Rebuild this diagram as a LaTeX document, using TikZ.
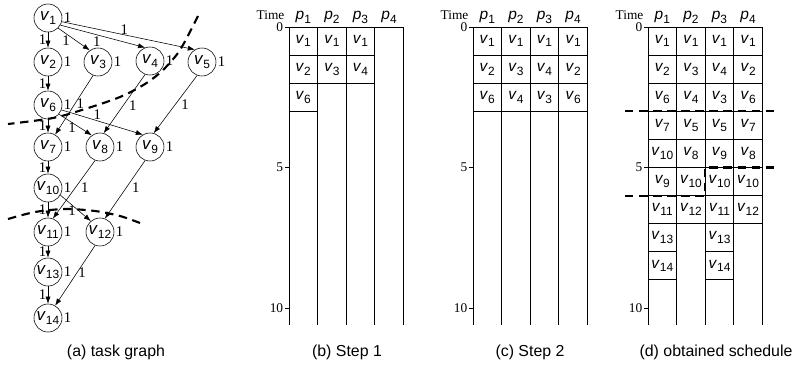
\documentclass[tikz,border=0pt]{standalone}
\usepackage{fontspec}
\setmainfont{Liberation Sans}
\newfontfamily\tfont{Liberation Serif}
\usetikzlibrary{arrows.meta}
\tikzset{>={Latex[length=5pt,width=3.6pt]}}
\newcommand\tk[1]{\textit{v}\raisebox{-2.6pt}{\fontsize{8.5}{8.5}\selectfont #1}}
\newcommand\pk[1]{\textit{p}\raisebox{-2.6pt}{\fontsize{8.5}{8.5}\selectfont #1}}
\tikzset{
  elbl/.style={font=\tfont\fontsize{10.5}{10.5}\selectfont,inner sep=1pt},
  task/.style={draw,circle,minimum size=0.7cm,inner sep=0pt,
    font=\fontsize{12}{12}\selectfont,label={[elbl]right:1}},
  chart/.style={line width=0.6pt},
  cell/.style={draw,line width=0.6pt,minimum width=0.715cm,minimum height=0.7025cm,
    inner sep=0pt,font=\fontsize{11}{11}\selectfont},
  plbl/.style={font=\fontsize{11}{11}\selectfont,inner sep=0pt,anchor=base},
  tlbl/.style={font=\tfont\fontsize{9.5}{9.5}\selectfont,inner sep=1pt},
  captext/.style={font=\fontsize{11.3}{11.3}\selectfont},
  cutline/.style={line width=1.5pt,dash pattern=on 6pt off 4pt}
}
\begin{document}
\begin{tikzpicture}[x=0.025cm,y=-0.025cm]
\useasboundingbox (0,0) rectangle (793,369);
% task graph
\node[task] (v1) at (48,18) {\tk{1}};
\node[task] (v2) at (48,62) {\tk{2}};
\node[task] (v3) at (98,62) {\tk{3}};
\node[task] (v4) at (150,61) {\tk{4}};
\node[task] (v5) at (202,62) {\tk{5}};
\node[task] (v6) at (48,105) {\tk{6}};
\node[task] (v7) at (48,147) {\tk{7}};
\node[task] (v8) at (100,147) {\tk{8}};
\node[task] (v9) at (150,147) {\tk{9}};
\node[task] (v10) at (48,188) {\tk{10}};
\node[task] (v11) at (48,232) {\tk{11}};
\node[task] (v12) at (100,232) {\tk{12}};
\node[task] (v13) at (48,272) {\tk{13}};
\node[task] (v14) at (48,318) {\tk{14}};
\draw[->] (v1) -- node[elbl,left] {1} (v2);
\draw[->] (v1.-45) -- node[elbl,pos=.25,below] {1} (v3.125);
\draw[->] (v1.-30) -- node[elbl,pos=.43,below] {1} (v4.110);
\draw[->] (v1.-15) -- node[elbl,pos=.47,above,inner sep=0pt] {1} (v5.120);
\draw[->] (v2) -- node[elbl,left] {1} (v6);
\draw[->] (v3.-110) -- node[elbl,pos=.48,right] {1} (v7.60);
\draw[->] (v4.-110) -- node[elbl,pos=.53,right=3pt] {1} (v8.75);
\draw[->] (v5.-110) -- node[elbl,pos=.5,right=3pt] {1} (v9.75);
\draw[->] (v6) -- node[elbl,left] {1} (v7);
\draw[->] (v6.-40) -- node[elbl,pos=.4,below,inner sep=0pt] {1} (v8.125);
\draw[->] (v6.-20) -- node[elbl,pos=.44,above] {1} (v9.120);
\draw[->] (v7) -- node[elbl,left] {1} (v10);
\draw[->] (v8.-110) -- node[elbl,pos=.47,right=3pt] {1} (v11.70);
\draw[->] (v9.-110) -- node[elbl,pos=.47,right=3pt] {1} (v12.70);
\draw[->] (v10) -- node[elbl,left] {1} (v11);
\draw[->] (v10.-30) -- node[elbl,pos=.38,below,inner sep=0pt] {1} (v12.130);
\draw[->] (v11) -- node[elbl,left] {1} (v13);
\draw[->] (v12.-110) -- node[elbl,pos=.46,right] {1} (v14.60);
\draw[->] (v13) -- node[elbl,left] {1} (v14);
\draw[cutline] plot[smooth] coordinates {(198,16) (180,50) (163,70) (145,84) (120,97) (85,109) (53,118) (8,124)};
\draw[cutline] plot[smooth] coordinates {(8,219) (35,212) (65,209) (95,211) (120,216) (140,223)};
% schedules
\foreach \nm/\xo in {b/289,c/473,d/648}{
  \draw[chart] (\xo,27) -- (\xo,325);
  \draw[chart] (\xo,27) -- ({\xo+4*28.6},27);
  \foreach \k in {1,...,4}{
    \draw[chart] ({\xo+\k*28.6},27) -- ({\xo+\k*28.6},325);
    \node[plbl] (\nm-p\k) at ({\xo+(\k-0.5)*28.6},19.5) {\pk{\k}};
  }
  \foreach \t in {0,5,10}
    \draw[chart] (\xo,{27+\t*28.1}) -- ({\xo-4},{27+\t*28.1}) node[tlbl,left] (\nm-t\t) {\t};
  \node[tlbl,anchor=base east] (\nm-time) at ({\xo-3},19.5) {Time};
}
\foreach \col [count=\k] in {{1,2,6},{1,3},{1,4}}
  \foreach \v [count=\r] in \col
    \node[cell] (b-\k-\r) at ({289+(\k-0.5)*28.6},{27+(\r-0.5)*28.1}) {\tk{\v}};
\foreach \col [count=\k] in {{1,2,6},{1,3,4},{1,4,3},{1,2,6}}
  \foreach \v [count=\r] in \col
    \node[cell] (c-\k-\r) at ({473+(\k-0.5)*28.6},{27+(\r-0.5)*28.1}) {\tk{\v}};
\foreach \col [count=\k] in {{1,2,6,7,10,9,11,13,14},{1,3,4,5,8,10,12},{1,4,3,5,9,10,11,13,14},{1,2,6,7,8,10,12}}
  \foreach \v [count=\r] in \col
    \node[cell] (d-\k-\r) at ({648+(\k-0.5)*28.6},{27+(\r-0.5)*28.1}) {\tk{\v}};
\draw[cutline] (625,111.3) -- (778,111.3);
\draw[cutline] (625,195.6) -- (705.2,195.6) -- (705.2,167.5) -- (778,167.5);
% captions
\node[captext] (capa) at (116,352) {(a) task graph};
\node[captext] (capb) at (347,352) {(b) Step 1};
\node[captext] (capc) at (530,352) {(c) Step 2};
\node[captext] (capd) at (716,352) {(d) obtained schedule};
\end{tikzpicture}
\end{document}
